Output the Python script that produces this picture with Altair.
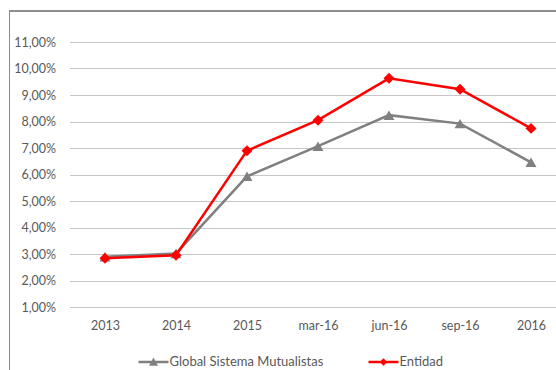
import altair as alt
import pandas as pd

# Periods on the horizontal axis
periods = ["2013", "2014", "2015", "mar-16", "jun-16", "sep-16", "2016"]
# Ratio (%) for each series
global_sistema = [2.90, 3.02, 5.93, 7.07, 8.24, 7.92, 6.46]
entidad = [2.84, 2.95, 6.90, 8.05, 9.63, 9.22, 7.74]
series_names = ["Global Sistema Mutualistas", "Entidad"]
series_colors = ["#808080", "#ff0000"]
y_ticks = [1, 2, 3, 4, 5, 6, 7, 8, 9, 10, 11]

rows = []
for name, vals in zip(series_names, [global_sistema, entidad]):
    for p, v in zip(periods, vals):
        rows.append({"periodo": p, "serie": name, "valor": v})
df = pd.DataFrame(rows)

FONT = "Lato"
TXT = "#595959"

# Legend symbols: a filled bar (the line) with the series marker on it
bar_path = "M-1,-0.08H1V0.08H-1Z"
tri_path = bar_path + "M0,-0.3L0.3,0.25L-0.3,0.25Z"
dia_path = bar_path + "M-0.25,0L0,-0.25L0.25,0L0,0.25Z"
legend_paths = [tri_path, dia_path]
legend_x = [68, 298]

color_scale = alt.Scale(domain=series_names, range=series_colors)
shape_scale = alt.Scale(domain=series_names, range=["triangle-up", "diamond"])

x_enc = alt.X(
    "periodo:N",
    sort=periods,
    scale=alt.Scale(type="point", range=[0, 497], padding=0.5),
    axis=alt.Axis(title=None, domain=False, ticks=False, grid=False,
                  labelAngle=0, labelPadding=12, labelFont=FONT,
                  labelFontSize=12.5, labelColor=TXT),
)
y_enc = alt.Y(
    "valor:Q",
    scale=alt.Scale(domain=[1, 11], nice=False, zero=False),
    axis=alt.Axis(title=None, values=y_ticks, domain=False, ticks=False,
                  grid=True, gridColor="#c6c6c6", gridWidth=1,
                  labelPadding=14, labelFont=FONT, labelFontSize=12.5,
                  labelColor=TXT,
                  labelExpr="replace(format(datum.value, '.2f'), '.', ',') + '%'"),
)

lines = alt.Chart(df).mark_line(strokeWidth=2.5).encode(
    x=x_enc, y=y_enc,
    color=alt.Color("serie:N", scale=color_scale, sort=series_names, legend=None),
    detail="serie:N",
)

points = alt.Chart(df).mark_point(filled=True, opacity=1, size=120).encode(
    x=x_enc, y=y_enc,
    color=alt.Color("serie:N", scale=color_scale, sort=series_names, legend=None),
    shape=alt.Shape("serie:N", scale=shape_scale, legend=None),
)

# One legend per series (no rows drawn); each symbol combines line and marker
legend_layers = []
for name, col, path, lx in zip(series_names, series_colors, legend_paths, legend_x):
    lg = alt.Legend(
        orient="none", legendX=lx, legendY=304, title=None,
        symbolSize=900, symbolOpacity=1,
        symbolFillColor=col, symbolStrokeColor=col,
        labelFont=FONT, labelFontSize=13, labelColor=TXT, labelOffset=0,
    )
    legend_layers.append(
        alt.Chart(df).transform_filter("false").mark_point(
            filled=True, fill=col, opacity=1, size=900
        ).encode(
            x=x_enc, y=y_enc,
            shape=alt.Shape("serie:N", scale=alt.Scale(domain=[name], range=[path]),
                            legend=lg),
        )
    )

# Outer chart frame (left and top edges)
frame_left = alt.Chart(df).mark_rule(color="#8c8c8c", strokeWidth=1).encode(
    x=alt.value(-60), y=alt.value(-31), y2=alt.value(340)
)
frame_top = alt.Chart(df).mark_rule(color="#8c8c8c", strokeWidth=1).encode(
    x=alt.value(-60), x2=alt.value(500), y=alt.value(-31)
)

chart = alt.layer(frame_left, frame_top, lines, points, *legend_layers).resolve_scale(
    shape="independent"
).resolve_legend(shape="independent").properties(
    width=486.5, height=265,
    autosize=alt.AutoSizeParams(type="none"),
    padding={"left": 69.5, "top": 42, "right": 0, "bottom": 63},
    background="white",
).configure_view(stroke=None)

chart.save("out.html", embed_options={"renderer": "svg", "actions": False})
